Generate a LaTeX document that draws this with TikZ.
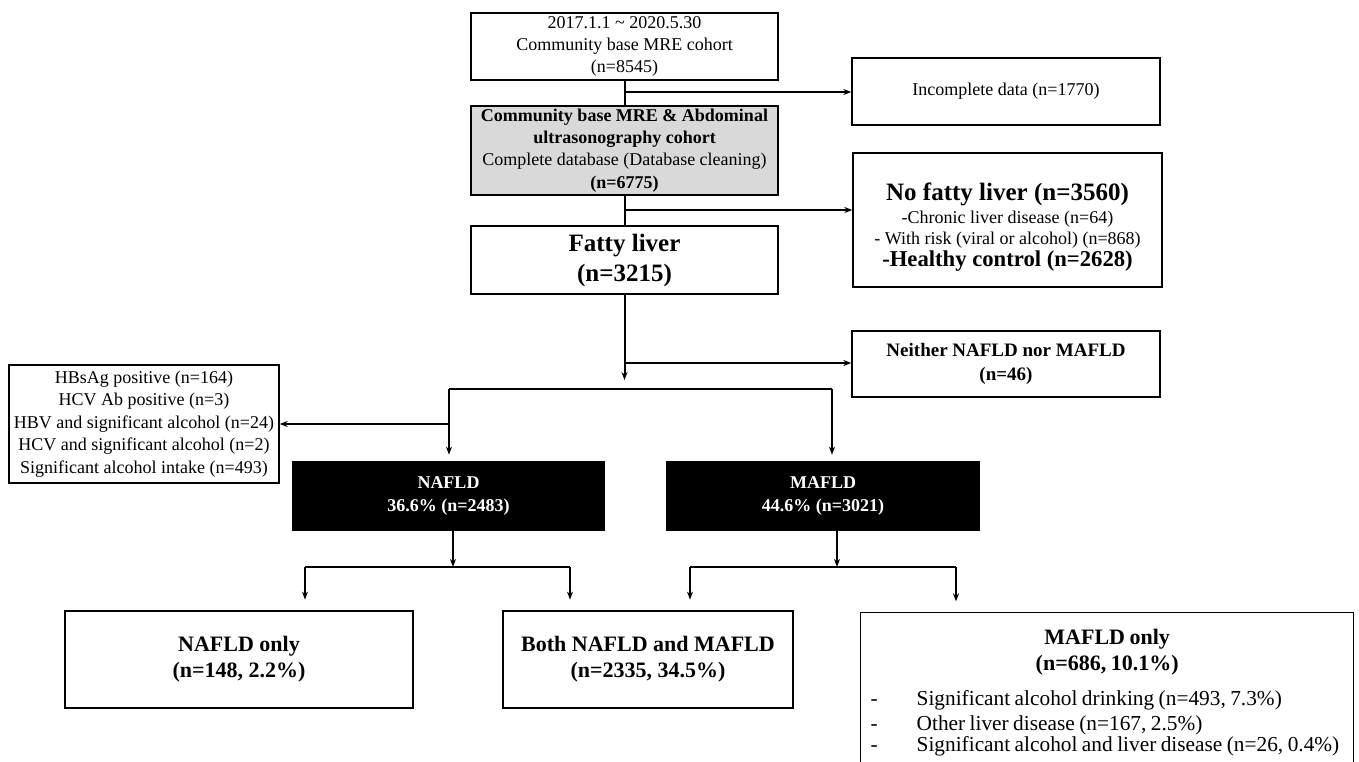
\documentclass[tikz,border=0pt]{standalone}
\usepackage{fontspec}
\setmainfont{Liberation Serif}
\usetikzlibrary{arrows.meta}
\definecolor{boxgray}{RGB}{217,217,217}
\newcommand\fs[2]{\fontsize{#1}{#2}\selectfont}
\tikzset{
  box/.style={draw=black, line width=1pt, align=center, inner sep=0pt},
  wh/.style 2 args={minimum width={#1*0.75pt}, minimum height={#2*0.75pt}},
  blk/.style={box, fill=black, text=white, font=\bfseries\fs{13.5}{17.3}},
  conn/.style={line width=1.5pt},
  arr/.style={conn, -{Stealth[length=6pt,width=4.5pt]}},
}
\begin{document}
\begin{tikzpicture}[x=0.75pt,y=-0.75pt]
\useasboundingbox (0,0) rectangle (1359,762);
% boxes
\node[box, wh={307}{67}, font=\fs{13.5}{16.2}] (top) at (624.5,46.5)
  {2017.1.1 \textasciitilde{} 2020.5.30\\Community base MRE cohort\\(n=8545)};
\node[box, wh={308}{67}, font=\fs{13.5}{16.2}] (incomplete) at (1006,91.5)
  {Incomplete data (n=1770)};
\node[box, wh={307}{89}, fill=boxgray, font=\fs{13.5}{16.7}] (gray) at (624.5,150.5)
  {\textbf{Community base MRE \& Abdominal}\\\textbf{ultrasonography cohort}\\Complete database (Database cleaning)\\\textbf{(n=6775)}};
\node[box, wh={307}{68}, font=\bfseries\fs{18.75}{22.5}] (fatty) at (624.5,260)
  {Fatty liver\\(n=3215)};
\node[box, wh={309}{134}, font=\fs{13.5}{16}] (nofatty) at (1007.5,220)
  {{\bfseries\fs{18.75}{22}\rule{0pt}{24pt}No fatty liver (n=3560)}\\[1.5pt]
   -Chronic liver disease (n=64)\\
   - With risk (viral or alcohol) (n=868)\\[0.5pt]
   {\bfseries\fs{17}{20}-Healthy control (n=2628)}};
\node[box, wh={308}{66}, font=\bfseries\fs{14.25}{17.5}] (neither) at (1006,364)
  {Neither NAFLD nor MAFLD\\(n=46)};
\node[box, wh={270}{118}, font=\fs{13.5}{16.9}] (hbsag) at (144,424)
  {HBsAg positive (n=164)\\HCV Ab positive (n=3)\\HBV and significant alcohol (n=24)\\HCV and significant alcohol (n=2)\\Significant alcohol intake (n=493)};
\node[blk, wh={311}{68}] (nafld) at (448.5,496) {NAFLD\\36.6\% (n=2483)};
\node[blk, wh={312}{68}] (mafld) at (823,496) {MAFLD\\44.6\% (n=3021)};
\node[box, wh={348}{97}, font=\bfseries\fs{16.5}{19.5}] (nafldonly) at (239,659.5)
  {NAFLD only\\(n=148, 2.2\%)};
\node[box, wh={290}{97}, font=\bfseries\fs{16.5}{19.5}] (both) at (648,659.5)
  {Both NAFLD and MAFLD\\(n=2335, 34.5\%)};
\node[draw=black, line width=1pt, inner sep=0pt, anchor=north west, text width=369.75pt] (mafldonly) at (860,612)
  {{\centering\bfseries\fs{16.5}{19.5}\rule{0pt}{24pt}MAFLD only\\(n=686, 10.1\%)\par}\vspace{7pt}
   \fs{16}{18.8}\raggedright
   \hspace*{7.5pt}\makebox[34.5pt][l]{-}Significant alcohol drinking (n=493, 7.3\%)\\
   \hspace*{7.5pt}\makebox[34.5pt][l]{-}Other liver disease (n=167, 2.5\%)\\
   \hspace*{7.5pt}\makebox[34.5pt][l]{-}Significant alcohol and liver disease (n=26, 0.4\%)\rule[-30pt]{0pt}{0pt}};
% junction coordinates
\coordinate (j1) at (624.5,92);
\coordinate (j2) at (624.5,210);
\coordinate (j3) at (624.5,363);
\coordinate (j4) at (624.5,380);
\coordinate (sL) at (449,389);
\coordinate (sR) at (832,389);
\coordinate (nL) at (305,567);
\coordinate (nR) at (570,567);
\coordinate (mL) at (690,567);
\coordinate (mR) at (956,567);
% connectors
\draw[conn] (top.south) -- (gray.north);
\draw[arr] (j1) -- (incomplete.west |- j1);
\draw[conn] (gray.south) -- (fatty.north);
\draw[arr] (j2) -- (nofatty.west |- j2);
\draw[arr] (fatty.south) -- (j4);
\draw[arr] (j3) -- (neither.west |- j3);
\draw[conn] (sL) -- (sR);
\draw[arr, shorten >=5pt] (sL) -- (sL |- nafld.north);
\draw[arr, shorten >=5pt] (sR) -- (sR |- mafld.north);
\draw[arr] (sL |- hbsag.east) -- (hbsag.east);
\draw[arr] (nafld.south -| 453,0) -- (453,567);
\draw[conn] (nL) -- (nR);
\draw[arr, shorten >=8pt] (nL) -- (nL |- nafldonly.north);
\draw[arr, shorten >=8pt] (nR) -- (nR |- both.north);
\draw[arr] (mafld.south -| 837,0) -- (837,567);
\draw[conn] (mL) -- (mR);
\draw[arr, shorten >=8pt] (mL) -- (mL |- both.north);
\draw[arr, shorten >=8pt] (mR) -- (mR |- mafldonly.north);
\end{tikzpicture}
\end{document}
